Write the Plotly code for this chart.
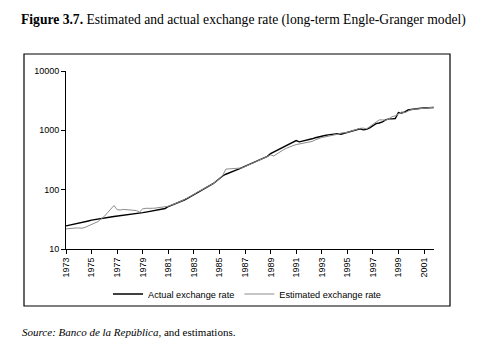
import plotly.graph_objects as go

# Quarterly periods 1973Q1 .. 2001Q4
years = list(range(1973, 2002))
quarters = [y + q * 0.25 for y in years for q in range(4)]

actual = [
    24.5, 25.1, 25.7, 26.4,
    27.1, 27.9, 28.8, 29.7,
    30.6, 31.4, 32.2, 32.9,
    33.5, 34.1, 34.7, 35.3,
    35.8, 36.3, 36.8, 37.4,
    38.0, 38.7, 39.4, 40.2,
    41.0, 41.9, 42.8, 43.8,
    44.8, 45.9, 47.0, 48.2,
    52.0, 54.5, 57.0, 60.0,
    63.0, 67.0, 71.5, 76.5,
    82.0, 88.0, 94.0, 100.0,
    107.0, 116.0, 126.0, 139.0,
    155.0, 170.0, 182.0, 193.0,
    202.0, 212.0, 222.0, 235.0,
    250.0, 263.0, 277.0, 292.0,
    308.0, 325.0, 345.0, 365.0,
    405.0, 430.0, 458.0, 490.0,
    522.0, 555.0, 590.0, 625.0,
    672.0, 640.0, 655.0, 680.0,
    705.0, 720.0, 750.0, 780.0,
    805.0, 820.0, 838.0, 850.0,
    865.0, 880.0, 860.0, 890.0,
    940.0, 975.0, 1010.0, 1050.0,
    1060.0, 1020.0, 1040.0, 1100.0,
    1200.0, 1300.0, 1330.0, 1390.0,
    1500.0, 1560.0, 1560.0, 1580.0,
    2000.0, 1950.0, 2050.0, 2200.0,
    2250.0, 2300.0, 2330.0, 2360.0,
    2380.0, 2390.0, 2400.0, 2430.0,
]

estimated = [
    21.8, 22.2, 22.4, 22.6,
    22.6, 22.4, 23.2, 24.3,
    25.5, 27.4, 29.0, 32.0,
    35.5, 41.0, 47.0, 54.0,
    46.0, 45.5, 46.5, 46.0,
    45.5, 45.0, 44.5, 42.0,
    47.5, 48.5, 48.0, 48.5,
    49.0, 49.5, 50.0, 51.0,
    52.5, 55.0, 57.5, 60.5,
    64.0, 68.0, 72.0, 77.0,
    83.0, 90.0, 97.0, 104.0,
    111.0, 118.0, 126.0, 138.0,
    152.0, 172.0, 222.0, 224.0,
    225.0, 226.0, 226.0, 232.0,
    245.0, 260.0, 275.0, 290.0,
    305.0, 322.0, 340.0, 362.0,
    385.0, 370.0, 405.0, 440.0,
    470.0, 500.0, 530.0, 552.0,
    575.0, 590.0, 600.0, 605.0,
    620.0, 650.0, 690.0, 730.0,
    757.0, 775.0, 790.0, 805.0,
    830.0, 860.0, 900.0, 900.0,
    920.0, 960.0, 1010.0, 1040.0,
    1080.0, 1089.0, 1060.0, 1150.0,
    1250.0, 1400.0, 1500.0, 1500.0,
    1480.0, 1560.0, 1700.0, 1750.0,
    1900.0, 2050.0, 1980.0, 2100.0,
    2250.0, 2270.0, 2300.0, 2320.0,
    2340.0, 2360.0, 2380.0, 2450.0,
]

x_tick_years = list(range(1973, 2002, 2))
y_tick_vals = [10, 100, 1000, 10000]
y_tick_text = ["10", "100", "1000", "10000"]

W, H = 493, 352
L, R, T, B = 66, 434, 71, 249  # plot area in pixels
pw, ph = R - L, B - T

def px_x(p):
    return (p - L) / pw

def px_y(p):
    return (B - p) / ph

fig = go.Figure()
fig.add_trace(go.Scatter(
    x=quarters, y=actual, mode="lines", name="Actual exchange rate",
    line=dict(color="#000000", width=1.4),
))
fig.add_trace(go.Scatter(
    x=quarters, y=estimated, mode="lines", name="Estimated exchange rate",
    line=dict(color="#8c8c8c", width=1),
))

axis_font = dict(family="Liberation Sans, Arial", size=9, color="#000")

fig.update_layout(
    width=W, height=H,
    margin=dict(l=L, r=W - R, t=T, b=H - B, pad=0),
    paper_bgcolor="white", plot_bgcolor="white",
    showlegend=True,
    legend=dict(
        orientation="h", x=px_x(108), y=px_y(294), xanchor="left", yanchor="middle",
        font=dict(family="Liberation Sans, Arial", size=9.2, color="#000"),
        itemwidth=30, bgcolor="rgba(0,0,0,0)", tracegroupgap=0,
    ),
    xaxis=dict(
        range=[1973, 2001.78], tickmode="array", tickvals=x_tick_years,
        ticktext=[str(v) for v in x_tick_years], tickangle=-90,
        ticks="outside", ticklen=4, tickcolor="#000", showline=True,
        linecolor="#000", linewidth=1, showgrid=False, zeroline=False,
        tickfont=axis_font,
    ),
    yaxis=dict(
        type="log", range=[1, 4], tickmode="array", tickvals=y_tick_vals,
        ticktext=y_tick_text, ticks="outside", ticklen=4, tickcolor="#000",
        showline=True, linecolor="#000", linewidth=1, showgrid=False,
        zeroline=False, tickfont=axis_font,
    ),
    shapes=[dict(
        type="rect", xref="paper", yref="paper",
        x0=px_x(24), x1=px_x(450), y0=px_y(306), y1=px_y(54),
        line=dict(color="#000", width=1.2), fillcolor="rgba(0,0,0,0)",
    )],
    annotations=[
        dict(
            text="<b>Figure 3.7.</b> Estimated and actual exchange rate (long-term Engle-Granger model)",
            xref="paper", yref="paper", x=px_x(19), y=px_y(20),
            xanchor="left", yanchor="middle", showarrow=False,
            font=dict(family="Liberation Serif, Times New Roman", size=13.6, color="#000"),
        ),
        dict(
            text="<i>Source: Banco de la República</i>, and estimations.",
            xref="paper", yref="paper", x=px_x(20), y=px_y(332),
            xanchor="left", yanchor="middle", showarrow=False,
            font=dict(family="Liberation Serif, Times New Roman", size=11, color="#000"),
        ),
    ],
)

fig.write_html("out.html")
